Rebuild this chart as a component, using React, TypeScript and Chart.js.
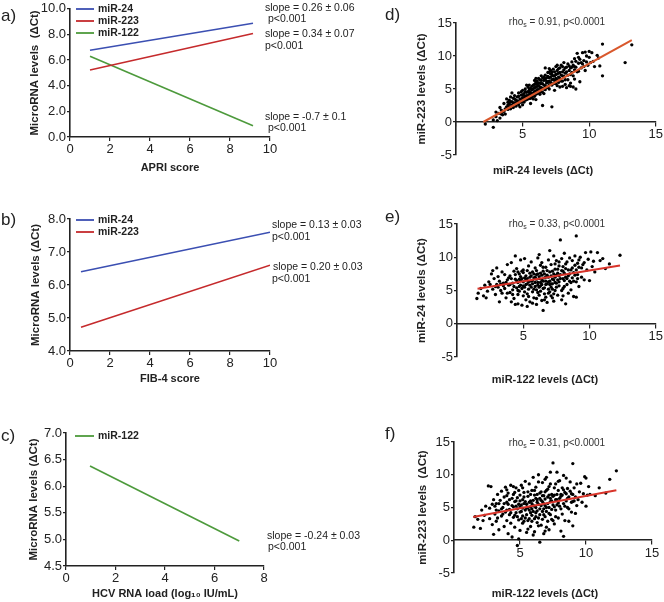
import React, { useEffect, useRef } from "react";
import { Chart, registerables } from "chart.js";

Chart.register(...registerables);

const FONT = "'Liberation Sans', Arial, Helvetica, sans-serif";
const INK = "#222";
const BLUE = "#3b4fb2";
const RED = "#c52a2c";
const GREEN = "#4d9a3c";
const ORANGE = "#d9582c";
const FIT_RED = "#d8342a";

// ---------- Panel a: APRI score ----------
const apriX = [1.0, 9.15];
const apriMiR24 = [6.77, 8.87];
const apriMiR223 = [5.23, 8.08];
const apriMiR122 = [6.3, 0.87];

// ---------- Panel b: FIB-4 score ----------
const fibX = [0.55, 10.0];
const fibMiR24 = [6.4, 7.6];
const fibMiR223 = [4.72, 6.6];

// ---------- Panel c: HCV RNA load ----------
const hcvX = [0.97, 7.0];
const hcvMiR122 = [6.38, 4.97];

// ---------- Scatter fits ----------
const dFitX = [2.05, 13.2];
const dFitY = [0.0, 12.4];
const eFitX = [1.55, 12.3];
const eFitY = [5.26, 8.77];
const fFitX = [1.45, 12.3];
const fFitY = [3.56, 7.63];

// ---------- Panel d: miR-24 (x) vs miR-223 (y) ----------
const dPoints: number[][] = [
  [2.2, -0.3], [2.8, -0.8], [2.8, 0.3], [3.0, 0.8], [3.1, 0.2], [3.2, 1.3], [3.3, 0.6], [3.4, 1.8], [3.5, 1.1], [3.0, 1.5], [3.3, 2.2],
  [3.6, 1.6], [3.6, 2.8], [3.7, 1.2], [3.8, 2.3], [3.8, 3.5], [3.9, 1.9], [4.0, 2.7], [4.0, 3.3], [4.1, 2.0], [4.1, 3.8], [4.2, 2.5],
  [4.2, 3.1], [4.3, 3.6], [4.3, 2.2], [4.4, 2.9], [4.4, 4.0], [4.5, 3.3], [4.5, 2.4], [3.9, 2.6], [4.2, 4.4],
  [4.6, 3.8], [4.6, 2.8], [4.7, 3.1], [4.7, 4.4], [4.8, 3.5], [4.8, 2.3], [4.9, 4.1], [4.9, 3.0], [5.0, 3.7], [5.0, 4.8], [5.0, 2.6],
  [5.1, 3.3], [5.1, 4.3], [5.2, 3.9], [5.2, 5.0], [5.3, 3.4], [5.3, 4.5], [5.4, 4.0], [5.4, 5.3], [5.5, 3.6], [5.5, 4.7], [4.7, 3.9],
  [5.1, 3.0], [5.3, 5.6], [4.9, 4.6],
  [5.6, 4.2], [5.6, 5.1], [5.7, 3.8], [5.7, 4.9], [5.8, 5.6], [5.8, 4.4], [5.9, 3.9], [5.9, 5.2], [6.0, 4.7], [6.0, 6.0], [6.1, 5.4],
  [6.1, 4.3], [6.2, 5.9], [6.2, 4.9], [6.3, 6.4], [6.3, 5.3], [6.4, 4.6], [6.4, 5.8], [6.5, 6.7], [6.5, 5.1], [6.5, 2.5], [5.6, 2.8],
  [6.0, 3.4], [5.9, 6.3], [6.2, 6.6], [6.4, 7.0], [6.1, 5.8],
  [6.6, 5.6], [6.6, 6.3], [6.7, 4.9], [6.7, 7.1], [6.8, 5.9], [6.8, 6.7], [6.9, 5.3], [6.9, 7.5], [7.0, 6.2], [7.0, 5.0], [7.1, 6.8],
  [7.1, 7.8], [7.2, 5.6], [7.2, 2.3], [7.2, 7.2], [7.3, 6.5], [7.3, 8.0], [7.4, 5.9], [7.4, 7.0], [7.5, 6.6], [7.5, 8.4], [6.7, 8.2],
  [7.0, 7.6], [7.4, 4.8],
  [7.6, 7.3], [7.6, 5.5], [7.7, 6.8], [7.7, 8.1], [7.8, 5.3], [7.8, 7.5], [7.9, 6.2], [7.9, 8.6], [8.0, 7.0], [8.0, 5.4], [8.1, 7.9],
  [8.1, 9.0], [8.2, 5.7], [8.2, 7.4], [8.3, 8.3], [8.3, 5.2], [8.4, 7.1], [8.4, 8.8], [8.5, 5.5], [8.5, 7.8], [7.7, 6.0], [8.0, 8.4],
  [8.2, 6.4],
  [8.6, 8.2], [8.6, 5.9], [8.7, 9.1], [8.7, 7.5], [8.8, 5.3], [8.8, 8.6], [8.9, 7.9], [8.9, 9.6], [9.0, 5.0], [9.0, 8.3], [9.1, 10.4],
  [9.1, 7.6], [9.2, 8.9], [9.3, 6.1], [9.3, 9.5], [9.4, 8.2], [9.5, 10.5], [9.5, 8.8],
  [9.6, 9.3], [9.7, 7.8], [9.8, 10.0], [9.9, 8.6], [10.0, 9.8], [10.1, 9.0], [10.2, 10.5], [10.3, 9.2], [10.4, 8.4], [9.7, 10.6],
  [10.6, 10.1], [10.8, 8.5], [11.0, 11.8], [11.0, 7.0], [12.7, 9.0], [13.2, 11.7], [10.7, 9.7],
  [4.5, 2.9], [4.6, 3.2], [4.7, 2.6], [4.8, 3.0], [4.9, 3.4], [5.0, 3.1], [5.0, 4.1], [5.1, 3.7], [5.2, 3.3], [5.2, 4.6], [5.3, 4.0],
  [5.4, 3.5], [5.4, 4.6], [5.5, 4.2], [5.5, 5.0], [5.6, 3.6], [5.6, 4.5], [5.7, 4.2], [5.7, 5.4], [5.8, 4.0], [5.8, 5.0], [5.9, 4.6],
  [5.9, 5.7], [6.0, 4.2], [6.0, 5.3], [6.1, 4.9], [6.1, 6.2], [6.2, 4.5], [6.2, 5.5], [6.3, 4.9], [6.3, 5.9], [6.4, 5.2], [6.4, 6.3],
  [6.5, 4.5], [6.5, 5.8], [6.6, 5.0], [6.6, 6.8], [6.7, 5.5], [6.7, 6.5], [6.8, 5.2], [6.8, 6.2], [6.9, 6.0], [6.9, 6.9], [7.0, 5.6],
  [7.0, 6.7], [7.1, 6.0], [7.1, 7.3], [7.2, 6.4], [7.2, 7.6], [7.3, 5.8], [7.3, 7.0], [7.4, 6.3], [7.4, 7.6], [7.5, 5.8], [7.5, 7.2],
  [7.6, 6.4], [7.6, 7.8], [7.7, 7.4], [7.8, 6.6], [7.8, 8.2], [7.9, 7.1], [8.0, 6.2], [8.0, 7.6], [8.1, 6.9], [8.2, 8.2], [8.3, 7.6],
  [8.4, 6.4], [8.5, 8.5], [8.6, 7.2], [8.7, 8.3], [8.9, 8.4], [9.0, 9.2], [9.2, 7.7], [9.4, 9.0], [9.6, 8.4], [9.8, 9.1], [4.0, 2.3],
  [4.1, 3.0], [4.3, 2.9], [4.4, 3.5], [3.7, 2.0], [3.9, 3.0], [3.5, 1.6], [3.4, 1.2], [6.0, 6.6], [6.3, 4.2], [5.5, 5.6], [7.0, 8.1],
  [7.6, 8.6], [8.8, 7.0], [8.9, 6.5], [8.6, 5.4], [9.2, 9.8], [10.0, 10.7], [5.8, 3.5], [6.6, 4.3],
];

// ---------- Panel e: miR-122 (x) vs miR-24 (y) ----------
const ePoints: number[][] = [
  [1.5, 3.8], [1.6, 4.6], [1.8, 5.3], [2.0, 4.2], [2.1, 5.8], [2.3, 4.9], [2.4, 6.3], [2.2, 3.9],
  [2.6, 7.5], [2.7, 5.2], [2.8, 6.8], [2.9, 4.4], [3.0, 8.4], [3.0, 5.9], [3.1, 7.1], [3.2, 3.3], [3.2, 6.4], [3.3, 5.0], [3.4, 7.8],
  [3.4, 4.6], [3.5, 6.1], [2.7, 8.0], [3.1, 5.5],
  [3.6, 5.3], [3.6, 7.4], [3.7, 3.9], [3.8, 6.6], [3.8, 8.9], [3.9, 5.8], [4.0, 4.7], [4.0, 7.2], [4.1, 3.3], [4.1, 9.2], [4.2, 6.1],
  [4.2, 5.1], [4.3, 7.9], [4.3, 3.8], [4.4, 6.7], [4.4, 10.2], [4.5, 5.4], [4.5, 8.3], [3.9, 6.9], [4.2, 4.4],
  [4.6, 3.0], [4.6, 6.2], [4.7, 7.5], [4.7, 4.9], [4.8, 9.6], [4.8, 5.8], [4.9, 2.8], [4.9, 6.8], [5.0, 4.2], [5.0, 8.1], [5.0, 6.3],
  [5.1, 5.5], [5.1, 9.8], [5.2, 3.6], [5.2, 7.2], [5.3, 6.0], [5.3, 4.5], [5.4, 8.7], [5.4, 5.2], [5.5, 7.0], [5.5, 3.3], [4.8, 6.5],
  [5.2, 6.6], [5.0, 7.7], [4.6, 5.0],
  [5.6, 6.4], [5.6, 9.3], [5.7, 4.8], [5.7, 7.8], [5.8, 3.9], [5.8, 6.9], [5.9, 5.6], [5.9, 8.4], [6.0, 2.9], [6.0, 7.4], [6.0, 5.1],
  [6.1, 9.9], [6.1, 6.2], [6.2, 4.3], [6.2, 7.1], [6.3, 8.8], [6.3, 5.7], [6.4, 3.5], [6.4, 6.6], [6.5, 2.0], [6.5, 7.9], [6.5, 5.3],
  [5.7, 6.0], [6.1, 4.7], [6.3, 7.6], [5.9, 7.0], [6.2, 10.4], [6.4, 9.2],
  [6.6, 6.9], [6.6, 4.5], [6.7, 8.5], [6.7, 5.9], [6.8, 3.2], [6.8, 7.3], [6.9, 9.6], [6.9, 6.3], [7.0, 4.8], [7.0, 7.8], [7.0, 11.0],
  [7.1, 5.5], [7.1, 8.9], [7.2, 3.9], [7.2, 6.7], [7.3, 10.2], [7.3, 7.5], [7.4, 5.0], [7.4, 8.2], [7.5, 6.1], [7.5, 9.5], [6.7, 7.0],
  [7.2, 6.0], [6.9, 5.2], [7.4, 7.0], [7.1, 4.2],
  [7.6, 4.3], [7.6, 7.6], [7.7, 8.7], [7.7, 5.7], [7.8, 12.6], [7.8, 6.8], [7.9, 9.8], [7.9, 3.6], [8.0, 7.9], [8.0, 5.3], [8.1, 10.6],
  [8.1, 6.5], [8.2, 3.0], [8.2, 8.3], [8.3, 9.3], [8.3, 5.9], [8.4, 7.2], [8.4, 4.6], [8.5, 9.9], [8.5, 6.4], [7.7, 7.2], [8.0, 8.6],
  [8.2, 7.0],
  [8.6, 8.1], [8.6, 5.1], [8.7, 9.5], [8.7, 6.9], [8.8, 4.1], [8.8, 7.7], [8.9, 10.2], [8.9, 8.8], [9.0, 13.2], [9.0, 4.0], [9.0, 6.3],
  [9.1, 9.1], [9.1, 7.4], [9.2, 5.6], [9.2, 8.5], [9.3, 10.0], [9.4, 7.0], [9.5, 8.9],
  [9.6, 6.6], [9.7, 10.7], [9.8, 8.1], [9.9, 9.7], [10.0, 6.5], [10.1, 10.8], [10.2, 8.6], [10.3, 9.4], [10.4, 7.8], [9.6, 9.2],
  [10.6, 10.7], [10.8, 9.5], [11.2, 8.3], [11.5, 9.0], [12.3, 10.3], [11.0, 9.8],
  [4.0, 5.9], [4.1, 6.8], [4.3, 5.6], [4.4, 7.4], [4.5, 6.5], [4.6, 7.8], [4.7, 5.6], [4.7, 6.7], [4.8, 7.1], [4.9, 5.3], [4.9, 7.9],
  [5.0, 5.7], [5.1, 6.9], [5.1, 4.8], [5.2, 5.9], [5.3, 8.0], [5.3, 6.8], [5.4, 6.3], [5.5, 5.8], [5.5, 7.6], [5.6, 5.5], [5.6, 7.2],
  [5.7, 6.5], [5.8, 5.2], [5.8, 7.5], [5.9, 6.2], [6.0, 6.7], [6.0, 8.0], [6.1, 5.8], [6.1, 7.5], [6.2, 5.5], [6.2, 6.8], [6.3, 6.2],
  [6.3, 4.9], [6.4, 7.3], [6.4, 5.9], [6.5, 6.4], [6.5, 8.5], [6.6, 7.5], [6.6, 5.4], [6.7, 6.4], [6.7, 4.0], [6.8, 6.0], [6.8, 8.0],
  [6.9, 7.0], [6.9, 4.6], [7.0, 6.4], [7.0, 5.9], [7.1, 7.2], [7.1, 6.0], [7.2, 7.9], [7.2, 5.2], [7.3, 6.6], [7.3, 4.5], [7.4, 6.2],
  [7.4, 9.0], [7.5, 7.3], [7.5, 5.5], [7.6, 6.6], [7.6, 8.2], [7.7, 6.3], [7.7, 9.3], [7.8, 7.4], [7.9, 5.0], [7.9, 8.0], [8.0, 6.8],
  [8.1, 7.6], [8.1, 5.6], [8.2, 9.0], [8.3, 6.8], [8.4, 8.1], [8.5, 7.5], [8.6, 6.2], [8.7, 8.4], [8.8, 6.4], [8.9, 7.3], [9.0, 8.1],
  [9.1, 6.8], [9.2, 9.6], [9.4, 8.4], [3.5, 5.7], [3.7, 6.2], [3.3, 6.0], [2.9, 5.6], [2.5, 5.9], [3.8, 4.6], [4.6, 4.4], [5.4, 4.1],
  [6.0, 3.8], [6.6, 3.6], [7.3, 3.4], [8.0, 4.2], [5.7, 3.1], [4.4, 2.9], [5.3, 2.6],
];

// ---------- Panel f: miR-122 (x) vs miR-223 (y) ----------
const fPoints: number[][] = [
  [1.5, 2.0], [1.6, 3.6], [1.8, 3.2], [2.0, 1.8], [2.1, 4.6], [2.2, 3.0], [2.4, 5.2], [2.3, 3.8],
  [2.6, 8.3], [2.7, 4.9], [2.8, 8.2], [2.9, 2.4], [3.0, 6.2], [3.0, 0.9], [3.1, 4.0], [3.2, 5.6], [3.2, 2.9], [3.3, 7.0], [3.4, 4.5],
  [3.4, 1.6], [3.5, 6.1], [2.7, 3.3], [3.1, 5.2], [3.3, 3.4],
  [3.6, 7.5], [3.6, 3.7], [3.7, 5.0], [3.8, 2.1], [3.8, 6.6], [3.9, 8.1], [3.9, 4.3], [4.0, 3.0], [4.0, 5.8], [4.1, 1.0], [4.1, 7.2],
  [4.2, 4.7], [4.2, 6.2], [4.3, 2.6], [4.3, 8.4], [4.4, 5.3], [4.4, 0.5], [4.5, 3.5], [4.5, 7.0], [3.7, 4.0], [4.0, 6.8], [4.2, 3.9],
  [4.6, 5.9], [4.6, 2.0], [4.7, 8.0], [4.7, 4.2], [4.8, -0.8], [4.8, 6.5], [4.9, 3.1], [4.9, 7.6], [5.0, 5.1], [5.0, 1.5], [5.1, 8.4],
  [5.1, 4.4], [5.2, 6.2], [5.2, 2.6], [5.3, 5.6], [5.3, 7.3], [5.4, 3.4], [5.4, 9.0], [5.5, 4.9], [5.5, 1.2], [4.8, 4.8], [5.0, 6.9],
  [5.2, 3.7], [4.6, 7.3], [5.4, 5.9],
  [5.6, 6.7], [5.6, 3.0], [5.7, 8.6], [5.7, 4.6], [5.8, 2.1], [5.8, 6.0], [5.9, 7.6], [5.9, 3.8], [6.0, 5.3], [6.0, 9.6], [6.1, 1.3],
  [6.1, 6.9], [6.2, 4.2], [6.2, 8.1], [6.3, 2.7], [6.3, 5.8], [6.4, 10.0], [6.4, 3.4], [6.5, -0.3], [6.5, 7.2], [6.5, 4.8], [5.8, 5.1],
  [6.1, 3.3], [6.3, 7.0], [5.9, 5.6], [6.2, 6.4], [6.0, 0.8],
  [6.6, 6.1], [6.6, 2.3], [6.7, 8.8], [6.7, 4.4], [6.8, 5.6], [6.8, 1.0], [6.9, 7.4], [6.9, 3.6], [7.0, 9.6], [7.0, 5.0], [7.1, 6.6],
  [7.1, 2.9], [7.2, 8.2], [7.2, 4.1], [7.3, 5.9], [7.3, 10.4], [7.4, 3.2], [7.4, 7.0], [7.5, 11.8], [7.5, 5.4], [6.7, 6.8], [7.0, 7.6],
  [7.3, 6.4], [6.8, 4.8], [7.2, 1.6],
  [7.6, 6.9], [7.6, 2.5], [7.7, 8.6], [7.7, 4.6], [7.8, 10.4], [7.8, 6.2], [7.9, 3.4], [7.9, 7.6], [8.0, 5.2], [8.0, 9.1], [8.1, 1.4],
  [8.1, 6.7], [8.2, 4.0], [8.2, 8.0], [8.3, 5.6], [8.3, 0.6], [8.4, 7.3], [8.4, 3.0], [8.5, 9.5], [8.5, 6.0], [7.8, 5.4], [8.1, 7.0],
  [8.6, 5.0], [8.6, 7.9], [8.7, 2.9], [8.7, 6.6], [8.8, 8.9], [8.9, 4.3], [8.9, 7.1], [9.0, 11.7], [9.0, 2.2], [9.0, 5.9], [9.1, 8.0],
  [9.2, 6.6], [9.2, 4.1], [9.3, 8.6], [9.4, 6.2], [9.5, 7.4],
  [9.6, 8.7], [9.7, 5.8], [9.8, 7.1], [9.9, 9.7], [10.0, 5.2], [10.1, 6.9], [10.2, 8.2], [10.3, 7.0], [10.0, 9.5],
  [10.7, 6.8], [11.0, 8.0], [11.5, 7.2], [11.8, 9.3], [12.3, 10.6],
  [4.0, 4.6], [4.1, 5.5], [4.3, 4.2], [4.4, 6.4], [4.5, 5.1], [4.6, 3.8], [4.7, 6.0], [4.7, 5.2], [4.8, 3.6], [4.9, 5.5], [5.0, 4.3],
  [5.0, 6.0], [5.1, 3.3], [5.1, 5.4], [5.2, 4.9], [5.3, 2.9], [5.3, 6.6], [5.4, 4.6], [5.5, 5.5], [5.5, 3.9], [5.6, 5.0], [5.6, 7.4],
  [5.7, 3.3], [5.7, 5.8], [5.8, 4.2], [5.8, 7.0], [5.9, 4.8], [5.9, 2.9], [6.0, 6.1], [6.0, 4.4], [6.1, 5.2], [6.1, 7.6], [6.2, 3.6],
  [6.2, 5.0], [6.3, 6.2], [6.3, 4.5], [6.4, 5.5], [6.4, 2.2], [6.5, 6.4], [6.5, 3.9], [6.6, 5.3], [6.6, 7.4], [6.7, 3.2], [6.7, 5.9],
  [6.8, 6.8], [6.8, 3.9], [6.9, 5.3], [6.9, 6.3], [7.0, 4.4], [7.0, 2.0], [7.1, 5.6], [7.1, 7.8], [7.2, 5.0], [7.2, 6.9], [7.3, 3.9],
  [7.3, 8.6], [7.4, 6.0], [7.4, 4.7], [7.5, 6.7], [7.5, 3.0], [7.6, 5.1], [7.6, 8.0], [7.7, 6.2], [7.7, 3.6], [7.8, 7.0], [7.9, 5.7],
  [7.9, 9.0], [8.0, 6.4], [8.1, 4.8], [8.2, 6.9], [8.3, 7.7], [8.4, 5.2], [8.5, 7.1], [8.6, 6.4], [8.7, 4.8], [8.8, 7.5], [8.9, 5.8],
  [9.0, 7.0], [9.1, 6.0], [9.3, 5.3], [3.4, 5.6], [3.6, 4.8], [3.2, 4.6], [2.9, 5.5], [3.8, 5.6], [4.0, 7.7], [4.5, 8.2], [5.2, 8.0],
  [6.4, 8.9], [6.9, 9.3], [8.3, 9.9], [5.6, 1.7], [6.9, 1.4], [4.9, 0.2],
];

// ---------- tick step settings ----------
const aYTicks = { min: 0, max: 10, step: 2 };
const bYTicks = { min: 4, max: 8, step: 1 };
const cYTicks = { min: 4.5, max: 7, step: 0.5 };
const scatterXTicks = { min: 0, max: 15, step: 5 };
const scatterYTicks = { min: -5, max: 15, step: 5 };

type Seg = { t: string; sub?: boolean };
type TextItem = {
  x: number;
  y: number;
  text: string | Seg[];
  size?: number;
  bold?: boolean;
  align?: "left" | "center";
  color?: string;
};

const figTextPlugin = {
  id: "figText",
  afterDraw(chart: any, _args: any, opts: any) {
    const items: TextItem[] = (opts && opts.items) || [];
    const ctx = chart.ctx;
    ctx.save();
    for (const it of items) {
      const size = it.size ?? 10.5;
      const segs: Seg[] = typeof it.text === "string" ? [{ t: it.text }] : it.text;
      const mainFont = `${it.bold ? "bold " : ""}${size}px ${FONT}`;
      const subFont = `${it.bold ? "bold " : ""}${Math.round(size * 0.7)}px ${FONT}`;
      const widths = segs.map((s) => {
        ctx.font = s.sub ? subFont : mainFont;
        return ctx.measureText(s.t).width;
      });
      const total = widths.reduce((a, b) => a + b, 0);
      let x = it.align === "center" ? it.x - total / 2 : it.x;
      ctx.textAlign = "left";
      ctx.textBaseline = "middle";
      ctx.fillStyle = it.color ?? INK;
      segs.forEach((s, i) => {
        ctx.font = s.sub ? subFont : mainFont;
        ctx.fillText(s.t, x, s.sub ? it.y + size * 0.28 : it.y);
        x += widths[i];
      });
    }
    ctx.restore();
  },
};

const lineLegendPlugin = {
  id: "lineLegend",
  afterDraw(chart: any, _args: any, opts: any) {
    if (!opts || !opts.display) return;
    const ctx = chart.ctx;
    ctx.save();
    chart.data.datasets.forEach((ds: any, i: number) => {
      const y = opts.y + i * opts.rowH;
      ctx.strokeStyle = ds.borderColor;
      ctx.lineWidth = 1.8;
      ctx.beginPath();
      ctx.moveTo(opts.x, y);
      ctx.lineTo(opts.x + opts.len, y);
      ctx.stroke();
      ctx.font = `bold 10.5px ${FONT}`;
      ctx.fillStyle = INK;
      ctx.textAlign = "left";
      ctx.textBaseline = "middle";
      ctx.fillText(ds.label, opts.x + opts.len + 4, y);
    });
    ctx.restore();
  },
};

const Y_TITLE_SIZE = 11.5;
const Y_TITLE_LH = Y_TITLE_SIZE * 1.2;
const X_TITLE_LH = 11 * 1.2;
const LEFT_W = 400;

function axisCommon(extra: any) {
  return {
    type: "linear",
    grid: {
      display: true,
      drawOnChartArea: false,
      drawTicks: true,
      tickLength: 4,
      color: INK,
      lineWidth: 1.2,
    },
    border: { display: true, color: INK, width: 1.6 },
    ...extra,
  };
}

function toXY(xs: number[], ys: number[]) {
  return xs.map((x, i) => ({ x, y: ys[i] }));
}

type LineSeries = { label: string; color: string; xs: number[]; ys: number[] };

function lineConfig(p: {
  series: LineSeries[];
  xMax: number;
  yT: { min: number; max: number; step: number };
  xTitle: string;
  yTitle: string;
  w: number;
  h: number;
  area: { left: number; top: number; right: number; bottom: number };
  yTitleX: number;
  xTitleY: number;
  legend: { x: number; y: number; rowH: number; len: number };
  texts: TextItem[];
}): any {
  const padLeft = p.yTitleX - Y_TITLE_LH / 2;
  return {
    type: "line",
    data: {
      datasets: p.series.map((s) => ({
        label: s.label,
        data: toXY(s.xs, s.ys),
        borderColor: s.color,
        backgroundColor: s.color,
        borderWidth: 1.6,
        pointRadius: 0,
        tension: 0,
        fill: false,
      })),
    },
    options: {
      responsive: false,
      animation: false,
      events: [],
      layout: {
        padding: { left: padLeft, top: p.area.top, right: p.w - p.area.right, bottom: 0 },
      },
      plugins: {
        legend: { display: false },
        tooltip: { enabled: false },
        lineLegend: { display: true, ...p.legend },
        figText: { items: p.texts },
      },
      scales: {
        x: axisCommon({
          position: "bottom",
          min: 0,
          max: p.xMax,
          ticks: {
            stepSize: 2,
            autoSkip: false,
            maxRotation: 0,
            padding: 1,
            color: INK,
            font: { family: FONT, size: 13 },
            callback: (v: number) => String(v),
          },
          title: {
            display: true,
            text: p.xTitle,
            color: INK,
            font: { family: FONT, size: 11, weight: "bold" },
            padding: { top: 0, bottom: p.h - p.xTitleY - X_TITLE_LH / 2 },
          },
          afterFit: (s: any) => {
            s.height = p.h - p.area.bottom;
          },
        }),
        y: axisCommon({
          position: "left",
          min: p.yT.min,
          max: p.yT.max,
          ticks: {
            stepSize: p.yT.step,
            autoSkip: false,
            padding: 1,
            color: INK,
            font: { family: FONT, size: 13 },
            callback: (v: number) => Number(v).toFixed(1),
          },
          grid: {
            display: true,
            drawOnChartArea: false,
            drawTicks: true,
            tickLength: 3,
            color: INK,
            lineWidth: 1.2,
          },
          title: {
            display: true,
            text: p.yTitle,
            color: INK,
            font: { family: FONT, size: Y_TITLE_SIZE, weight: "bold" },
            padding: { top: 0, bottom: 0 },
          },
          afterFit: (s: any) => {
            s.width = p.area.left - padLeft;
          },
        }),
      },
    },
    plugins: [lineLegendPlugin, figTextPlugin],
  };
}

function scatterConfig(p: {
  points: number[][];
  fitX: number[];
  fitY: number[];
  fitColor: string;
  yTitle: string;
  w: number;
  h: number;
  area: { left: number; top: number; right: number; bottom: number };
  yTitleX: number;
  texts: TextItem[];
}): any {
  const padLeft = p.yTitleX - Y_TITLE_LH / 2;
  return {
    type: "scatter",
    data: {
      datasets: [
        {
          type: "line",
          label: "fit",
          data: toXY(p.fitX, p.fitY),
          borderColor: p.fitColor,
          borderWidth: 2,
          pointRadius: 0,
          fill: false,
          tension: 0,
        },
        {
          type: "scatter",
          label: "points",
          data: p.points.map((q) => ({ x: q[0], y: q[1] })),
          backgroundColor: "#000",
          borderWidth: 0,
          pointRadius: 1.65,
        },
      ],
    },
    options: {
      responsive: false,
      animation: false,
      events: [],
      layout: {
        padding: {
          left: padLeft,
          top: p.area.top,
          right: p.w - p.area.right,
          bottom: p.h - p.area.bottom,
        },
      },
      plugins: {
        legend: { display: false },
        tooltip: { enabled: false },
        figText: { items: p.texts },
      },
      scales: {
        x: axisCommon({
          position: { y: 0 },
          min: scatterXTicks.min,
          max: scatterXTicks.max,
          ticks: {
            stepSize: scatterXTicks.step,
            autoSkip: false,
            maxRotation: 0,
            padding: 1,
            color: INK,
            font: { family: FONT, size: 13 },
            callback: (v: number) => (v === 0 ? "" : String(v)),
          },
        }),
        y: axisCommon({
          position: "left",
          min: scatterYTicks.min,
          max: scatterYTicks.max,
          ticks: {
            stepSize: scatterYTicks.step,
            autoSkip: false,
            padding: 1,
            color: INK,
            font: { family: FONT, size: 13 },
            callback: (v: number) => String(v),
          },
          grid: {
            display: true,
            drawOnChartArea: false,
            drawTicks: true,
            tickLength: 3,
            color: INK,
            lineWidth: 1.2,
          },
          title: {
            display: true,
            text: p.yTitle,
            color: INK,
            font: { family: FONT, size: Y_TITLE_SIZE, weight: "bold" },
            padding: { top: 0, bottom: 0 },
          },
          afterFit: (s: any) => {
            s.width = p.area.left - padLeft;
          },
        }),
      },
    },
    plugins: [figTextPlugin],
  };
}

function Panel(props: { left: number; top: number; width: number; height: number; make: () => any }) {
  const ref = useRef<HTMLCanvasElement | null>(null);
  useEffect(() => {
    if (!ref.current) return;
    const chart = new Chart(ref.current, props.make());
    return () => chart.destroy();
  }, []);
  return (
    <canvas
      ref={ref}
      width={props.width}
      height={props.height}
      style={{ position: "absolute", left: props.left, top: props.top, width: props.width, height: props.height }}
    />
  );
}

const rho = (v: string): Seg[] => [{ t: "rho" }, { t: "s", sub: true }, { t: ` = ${v}, p<0.0001` }];

export default function App() {
  return (
    <div style={{ position: "absolute", left: 0, top: 0, width: 664, height: 602, background: "#fff", overflow: "hidden" }}>
      <Panel
        left={0}
        top={0}
        width={LEFT_W}
        height={185}
        make={() =>
          lineConfig({
            series: [
              { label: "miR-24", color: BLUE, xs: apriX, ys: apriMiR24 },
              { label: "miR-223", color: RED, xs: apriX, ys: apriMiR223 },
              { label: "miR-122", color: GREEN, xs: apriX, ys: apriMiR122 },
            ],
            xMax: 10,
            yT: aYTicks,
            xTitle: "APRI score",
            yTitle: "MicroRNA levels  (ΔCt)",
            w: LEFT_W,
            h: 185,
            area: { left: 70, top: 7, right: 270, bottom: 137 },
            yTitleX: 35,
            xTitleY: 168,
            legend: { x: 76, y: 9, rowH: 12, len: 18 },
            texts: [
              { x: 1, y: 16, text: "a)", size: 17 },
              { x: 265, y: 8, text: "slope = 0.26 ± 0.06" },
              { x: 268, y: 19, text: "p<0.001" },
              { x: 265, y: 34, text: "slope = 0.34 ± 0.07" },
              { x: 265, y: 46, text: "p<0.001" },
              { x: 265, y: 117, text: "slope = -0.7 ± 0.1" },
              { x: 268, y: 128, text: "p<0.001" },
            ],
          })
        }
      />
      <Panel
        left={0}
        top={190}
        width={LEFT_W}
        height={200}
        make={() =>
          lineConfig({
            series: [
              { label: "miR-24", color: BLUE, xs: fibX, ys: fibMiR24 },
              { label: "miR-223", color: RED, xs: fibX, ys: fibMiR223 },
            ],
            xMax: 10,
            yT: bYTicks,
            xTitle: "FIB-4 score",
            yTitle: "MicroRNA levels (ΔCt)",
            w: LEFT_W,
            h: 200,
            area: { left: 70, top: 29, right: 270, bottom: 161 },
            yTitleX: 36,
            xTitleY: 189,
            legend: { x: 76, y: 30, rowH: 12, len: 18 },
            texts: [
              { x: 1, y: 30, text: "b)", size: 17 },
              { x: 272, y: 35, text: "slope = 0.13 ± 0.03" },
              { x: 272, y: 47, text: "p<0.001" },
              { x: 273, y: 77, text: "slope = 0.20 ± 0.03" },
              { x: 272, y: 89, text: "p<0.001" },
            ],
          })
        }
      />
      <Panel
        left={0}
        top={400}
        width={LEFT_W}
        height={202}
        make={() =>
          lineConfig({
            series: [{ label: "miR-122", color: GREEN, xs: hcvX, ys: hcvMiR122 }],
            xMax: 8,
            yT: cYTicks,
            xTitle: "HCV RNA load (log₁₀ IU/mL)",
            yTitle: "MicroRNA levels (ΔCt)",
            w: LEFT_W,
            h: 202,
            area: { left: 66, top: 33, right: 264, bottom: 166 },
            yTitleX: 34,
            xTitleY: 194,
            legend: { x: 75, y: 36, rowH: 12, len: 19 },
            texts: [
              { x: 1, y: 36, text: "c)", size: 17 },
              { x: 267, y: 136, text: "slope = -0.24 ± 0.03" },
              { x: 268, y: 147, text: "p<0.001" },
            ],
          })
        }
      />
      <Panel
        left={340}
        top={0}
        width={324}
        height={190}
        make={() =>
          scatterConfig({
            points: dPoints,
            fitX: dFitX,
            fitY: dFitY,
            fitColor: ORANGE,
            yTitle: "miR-223 levels (ΔCt)",
            w: 324,
            h: 190,
            area: { left: 116, top: 23, right: 316, bottom: 155 },
            yTitleX: 82,
            texts: [
              { x: 45, y: 15, text: "d)", size: 17 },
              { x: 217, y: 22, text: rho("0.91"), align: "center", color: "#333", size: 10 },
              { x: 203, y: 171, text: "miR-24 levels (ΔCt)", bold: true, size: 11, align: "center" },
            ],
          })
        }
      />
      <Panel
        left={340}
        top={195}
        width={324}
        height={195}
        make={() =>
          scatterConfig({
            points: ePoints,
            fitX: eFitX,
            fitY: eFitY,
            fitColor: FIT_RED,
            yTitle: "miR-24 levels (ΔCt)",
            w: 324,
            h: 195,
            area: { left: 117, top: 29, right: 317, bottom: 162 },
            yTitleX: 82,
            texts: [
              { x: 45, y: 22, text: "e)", size: 17 },
              { x: 217, y: 29, text: rho("0.33"), align: "center", color: "#333", size: 10 },
              { x: 205, y: 185, text: "miR-122 levels (ΔCt)", bold: true, size: 11, align: "center" },
            ],
          })
        }
      />
      <Panel
        left={340}
        top={400}
        width={324}
        height={202}
        make={() =>
          scatterConfig({
            points: fPoints,
            fitX: fFitX,
            fitY: fFitY,
            fitColor: FIT_RED,
            yTitle: "miR-223 levels  (ΔCt)",
            w: 324,
            h: 202,
            area: { left: 114, top: 42, right: 312, bottom: 173 },
            yTitleX: 83,
            texts: [
              { x: 45, y: 34, text: "f)", size: 17 },
              { x: 217, y: 43, text: rho("0.31"), align: "center", color: "#333", size: 10 },
              { x: 205, y: 194, text: "miR-122 levels (ΔCt)", bold: true, size: 11, align: "center" },
            ],
          })
        }
      />
    </div>
  );
}
